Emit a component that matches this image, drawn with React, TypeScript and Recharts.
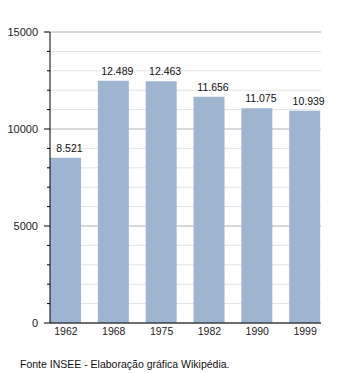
import React from "react";
import { BarChart, Bar, XAxis, YAxis, CartesianGrid, LabelList } from "recharts";

const years = ["1962", "1968", "1975", "1982", "1990", "1999"];
const population = [8521, 12489, 12463, 11656, 11075, 10939];
const yTicks = [0, 1000, 2000, 3000, 4000, 5000, 6000, 7000, 8000, 9000, 10000, 11000, 12000, 13000, 14000, 15000];
const majorTicks = [0, 5000, 10000, 15000];
const source = "Fonte INSEE - Elaboração gráfica Wikipédia.";

const data = years.map((y, i) => ({ year: y, value: population[i] }));

const FONT = "'Liberation Sans', Arial, sans-serif";

const fmt = (v: number) => (v / 1000).toFixed(3);

const YTick = (props: any) => {
  const { x, y, payload } = props;
  const v = payload.value;
  const major = majorTicks.includes(v);
  const axisX = x + 12;
  return (
    <g>
      <line x1={axisX - (major ? 6 : 3)} y1={y} x2={axisX} y2={y} stroke="#000" strokeWidth={1} />
      {major && (
        <text x={x} y={y} dy={4} textAnchor="end" fontSize={11} fill="#222" fontFamily={FONT}>
          {v}
        </text>
      )}
    </g>
  );
};

const GridLine = (p: any) => {
  const v = yTicks[p.index];
  const major = majorTicks.includes(v);
  return (
    <line
      key={p.key}
      x1={p.x1}
      y1={p.y1}
      x2={p.x2}
      y2={p.y2}
      stroke={major ? "#b2b2b2" : "#e3e3e3"}
      strokeWidth={1}
      fill="none"
    />
  );
};

export default function App() {
  return (
    <div style={{ position: "absolute", left: 0, top: 0, width: 350, height: 373, background: "#fff" }}>
      <BarChart
        width={350}
        height={373}
        data={data}
        margin={{ top: 32, right: 29, bottom: 30, left: 0 }}
      >
        <CartesianGrid vertical={false} horizontal={GridLine} />
        <XAxis
          dataKey="year"
          padding={{ left: -8, right: -8 }}
          axisLine={{ stroke: "#000" }}
          tickLine={false}
          tick={{ fontSize: 10.5, fill: "#222", fontFamily: FONT }}
          tickMargin={5}
          tickSize={0}
          height={20}
          interval={0}
        />
        <YAxis
          width={50}
          domain={[0, 15000]}
          ticks={yTicks}
          interval={0}
          axisLine={{ stroke: "#000" }}
          tickLine={false}
          tickSize={6}
          tickMargin={6}
          tick={<YTick />}
        />
        <Bar dataKey="value" fill="#9db5d0" barSize={31} isAnimationActive={false}>
          <LabelList
            dataKey="value"
            position="top"
            offset={6}
            dx={4}
            formatter={(v: any) => fmt(Number(v))}
            style={{ fontSize: 10.5, fill: "#111", fontFamily: FONT }}
          />
        </Bar>
      </BarChart>
      <div
        style={{
          position: "absolute",
          left: 20,
          top: 358,
          fontSize: 10.5,
          fontFamily: FONT,
          color: "#111",
          whiteSpace: "nowrap",
        }}
      >
        {source}
      </div>
    </div>
  );
}
